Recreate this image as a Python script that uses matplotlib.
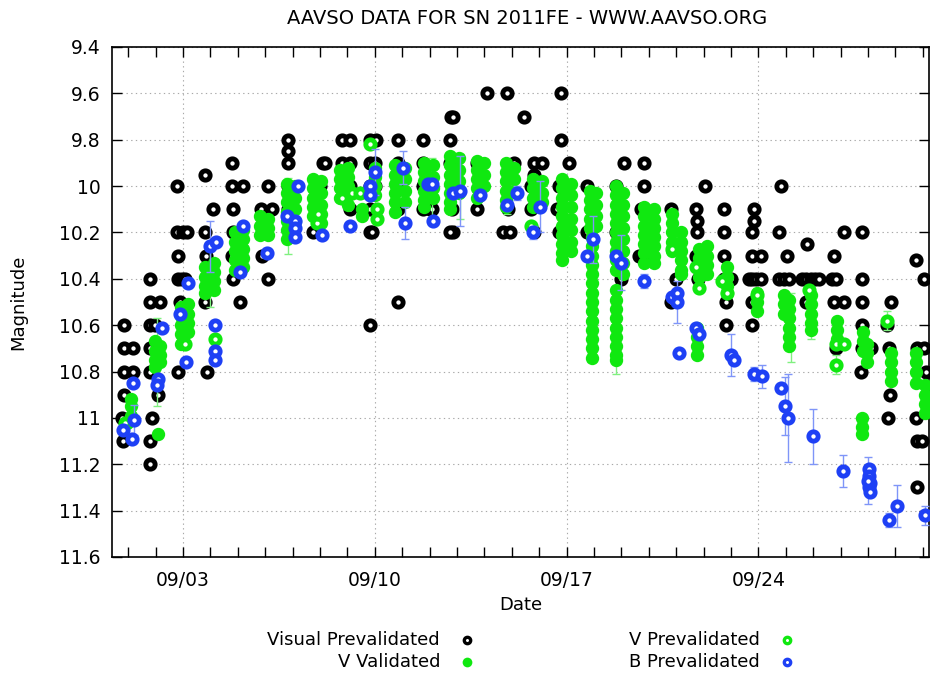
import numpy as np
import matplotlib.pyplot as plt

plt.rcParams['font.family'] = ['DejaVu Sans']

# day of September 2011 (fractional) and magnitude
visualDay = [0.85, 0.85, 0.85, 0.85, 0.78, 0.81, 1.18, 1.18,
             1.80, 1.80, 2.16, 1.80, 1.98, 1.80, 1.80, 2.09, 1.87, 1.80, 1.80,
             2.78, 2.78, 3.00, 3.15, 2.82, 2.82, 2.96, 3.07, 2.89, 2.82,
             3.80, 4.09, 3.80, 3.84, 3.97, 3.80, 3.87,
             4.79, 4.79, 5.19, 4.82, 4.82, 4.79, 4.82, 5.08,
             6.10, 5.84, 6.24, 5.88, 6.10,
             6.83, 6.83, 6.83, 6.83, 6.83,
             7.74, 8.10, 8.18, 7.99,
             8.80, 9.09, 8.80, 9.09, 9.09, 9.09,
             9.82, 10.05, 9.82, 10.00, 9.82, 10.00, 9.82, 9.82, 9.89, 9.82,
             10.84, 10.84, 10.80, 10.84, 10.84,
             11.75, 11.75, 11.75, 11.75, 12.00, 12.08,
             12.78, 12.86, 12.73, 12.73, 12.81, 12.84, 12.73,
             13.75, 13.75, 14.08,
             14.81, 14.67, 14.92, 14.85, 15.10, 15.43,
             15.83, 16.12, 15.83, 15.72, 15.72, 15.83,
             16.78, 16.78, 17.08, 16.74, 16.67, 16.74,
             17.76, 17.76,
             18.82, 19.11, 18.82, 19.00,
             19.84, 19.84, 19.73, 19.66, 19.77,
             20.83, 21.01, 20.83,
             22.06, 21.74, 21.77, 21.77, 21.74, 21.80,
             22.76, 22.76, 22.76, 22.76, 23.01, 22.83, 22.83,
             23.85, 23.85, 23.78, 23.78, 24.11, 23.67, 23.78, 23.93, 24.11, 23.78, 23.78,
             24.84, 24.76, 25.06, 24.76, 24.93, 25.13,
             25.79, 25.60, 25.75, 25.93, 26.08, 26.22, 25.75,
             26.77, 26.70, 26.84, 26.77, 27.13, 27.13, 26.84,
             27.79, 27.79, 27.79, 27.79, 27.79, 27.75, 28.12,
             28.84, 28.70, 28.77, 28.81, 28.74,
             29.76, 30.05, 29.80, 30.05, 30.12, 29.76, 29.80, 29.98, 29.80]
visualMag = [10.6, 10.7, 10.8, 10.9, 11.0, 11.1, 10.7, 10.8,
             10.4, 10.5, 10.5, 10.6, 10.6, 10.7, 10.8, 10.9, 11.0, 11.1, 11.2,
             10.0, 10.2, 10.2, 10.2, 10.3, 10.4, 10.4, 10.4, 10.5, 10.8,
             9.95, 10.1, 10.2, 10.3, 10.4, 10.5, 10.8,
             9.9, 10.0, 10.0, 10.1, 10.2, 10.3, 10.4, 10.5,
             10.0, 10.1, 10.1, 10.3, 10.4,
             9.8, 9.85, 9.9, 10.0, 10.1,
             10.2, 9.9, 9.9, 10.0,
             9.8, 9.8, 9.9, 9.9, 10.0, 10.1,
             9.8, 9.8, 9.9, 9.9, 10.0, 10.0, 10.1, 10.2, 10.2, 10.6,
             9.8, 9.9, 10.0, 10.1, 10.5,
             9.8, 9.9, 10.0, 10.1, 10.1, 10.1,
             9.7, 9.7, 9.8, 9.9, 10.1, 10.2, 10.2,
             9.9, 10.1, 9.6,
             9.6, 10.2, 10.2, 10.1, 9.9, 9.7,
             9.9, 9.9, 9.95, 10.0, 10.1, 10.2,
             9.6, 9.8, 9.9, 10.0, 10.1, 10.2,
             10.0, 10.2,
             10.0, 9.9, 10.2, 10.4,
             9.9, 10.0, 10.1, 10.3, 10.3,
             10.1, 10.4, 10.5,
             10.0, 10.1, 10.15, 10.2, 10.3, 10.4,
             10.1, 10.2, 10.3, 10.4, 10.4, 10.5, 10.6,
             10.1, 10.15, 10.2, 10.3, 10.3, 10.4, 10.4, 10.4, 10.4, 10.5, 10.6,
             10.0, 10.2, 10.3, 10.4, 10.4, 10.4,
             10.25, 10.4, 10.4, 10.4, 10.4, 10.4, 10.5,
             10.3, 10.4, 10.4, 10.5, 10.5, 10.2, 10.7,
             10.2, 10.4, 10.5, 10.6, 10.7, 10.8, 10.7,
             10.5, 10.6, 10.7, 10.9, 11.0,
             10.32, 10.4, 10.7, 10.7, 10.8, 11.0, 11.1, 11.1, 11.3]

# V validated: (day, magnitudes observed around that time)
vValidated = [
    (1.10, [10.92, 10.95, 10.99]), (0.96, [11.02]),
    (1.98, [10.67, 10.71, 10.75, 10.78]), (2.16, [10.69, 10.73, 10.76]), (2.09, [11.07]),
    (2.93, [10.52, 10.56, 10.60, 10.64, 10.68]), (3.18, [10.51, 10.55, 10.59, 10.63]),
    (3.80, [10.35, 10.39, 10.43, 10.46]), (4.13, [10.33, 10.37, 10.41, 10.45]),
    (4.90, [10.20, 10.24, 10.28, 10.32, 10.36]), (5.19, [10.19, 10.23, 10.27, 10.31, 10.35]),
    (5.81, [10.13, 10.17, 10.21]), (6.10, [10.14, 10.18, 10.21]),
    (6.79, [9.99, 10.03, 10.07, 10.11, 10.15, 10.19, 10.23]), (7.08, [10.00, 10.05, 10.10, 10.15]),
    (7.74, [9.97, 10.01, 10.05, 10.09, 10.13]), (8.03, [9.98, 10.03, 10.08, 10.12, 10.16]),
    (8.72, [9.93, 9.97, 10.01, 10.05]), (9.02, [9.92, 9.96, 10.00, 10.04, 10.08]),
    (9.53, [10.10, 10.13]), (10.00, [9.92, 9.96, 10.00, 10.04]),
    (10.73, [9.91, 9.95, 9.99, 10.03, 10.07, 10.11]), (11.09, [9.92, 9.97, 10.02, 10.07]),
    (11.79, [9.90, 9.94, 9.98, 10.02, 10.06, 10.09]), (12.11, [9.91, 9.96, 10.01, 10.05]),
    (12.73, [9.87, 9.91, 9.95, 9.99, 10.03, 10.07, 10.10]), (13.06, [9.88, 9.93, 9.98, 10.03]),
    (13.72, [9.89, 9.93, 9.97, 10.01, 10.05]), (13.97, [9.90, 9.95, 10.00]),
    (14.78, [9.90, 9.94, 9.98, 10.02, 10.06, 10.09]), (15.07, [9.92, 9.97, 10.02]),
    (15.76, [9.97, 10.01, 10.05, 10.09]), (16.12, [9.98, 10.03, 10.07]),
    (16.85, [9.97, 10.01, 10.05, 10.09, 10.13, 10.17, 10.21, 10.25, 10.29, 10.32]),
    (17.15, [9.99, 10.04, 10.09, 10.14, 10.19, 10.24, 10.28]),
    (17.84, [10.02, 10.06, 10.10, 10.14, 10.18]), (18.09, [10.03, 10.08, 10.13, 10.17]),
    (17.93, [10.22, 10.26, 10.30, 10.34, 10.38, 10.42, 10.46, 10.50, 10.54, 10.58, 10.62, 10.66, 10.70, 10.74]),
    (18.80, [10.00, 10.04, 10.08, 10.12, 10.16, 10.20, 10.24, 10.28, 10.32, 10.36]),
    (19.05, [10.03, 10.08, 10.13, 10.18, 10.23, 10.28, 10.33, 10.38]),
    (18.79, [10.45, 10.49, 10.53, 10.57, 10.61, 10.65, 10.69, 10.73, 10.75]),
    (19.84, [10.09, 10.13, 10.17, 10.21, 10.25, 10.29, 10.33]),
    (20.21, [10.10, 10.14, 10.18, 10.22, 10.26, 10.30, 10.33]),
    (20.86, [10.12, 10.16, 10.20, 10.24, 10.28]), (21.19, [10.20, 10.24, 10.28, 10.32, 10.36, 10.38]),
    (21.85, [10.27, 10.31, 10.35, 10.39]), (22.14, [10.26, 10.30, 10.34, 10.38]),
    (22.87, [10.35, 10.39, 10.43, 10.46]), (21.77, [10.61, 10.65, 10.69, 10.73]),
    (23.96, [10.46, 10.50, 10.54]), (24.95, [10.47, 10.51, 10.55]),
    (25.13, [10.49, 10.53, 10.57, 10.61, 10.65, 10.69]),
    (25.93, [10.47, 10.51, 10.55, 10.59, 10.62]), (26.88, [10.58, 10.62, 10.66]),
    (27.82, [10.63, 10.67, 10.71]), (27.98, [10.68, 10.72, 10.76]),
    (28.84, [10.72, 10.76, 10.80, 10.84]), (29.76, [10.72, 10.76, 10.80, 10.85]),
    (30.09, [10.86, 10.90, 10.94, 10.98]), (27.79, [11.00, 11.04, 11.07]),
]

vPreDay = [0.89, 3.07, 4.17, 7.89, 7.93, 8.80, 9.16, 9.46, 9.82, 10.07, 10.07, 15.72,
           20.86, 21.74, 21.85, 22.69, 22.87, 23.96, 25.86, 26.84, 27.13, 26.84, 28.70]
vPreMag = [11.02, 10.68, 10.66, 10.16, 10.12, 10.05, 10.03, 10.03, 9.82, 10.10, 10.14, 10.17,
           10.27, 10.35, 10.44, 10.41, 10.46, 10.47, 10.45, 10.68, 10.68, 10.77, 10.58]

# V error bars (day, mag, err)
vErrDay = [2.05, 6.83, 3.97, 12.08, 13.10, 14.81, 17.91, 18.82, 25.20, 28.70, 26.84, 23.96, 25.93]
vErrMag = [10.76, 10.13, 10.40, 10.02, 10.00, 10.05, 10.74, 10.76, 10.61, 10.58, 10.77, 10.47, 10.58]
vErrVal = [0.19, 0.165, 0.12, 0.14, 0.14, 0.07, 0.02, 0.05, 0.15, 0.04, 0.04, 0.03, 0.08]

bDay = [1.18, 1.21, 0.81, 1.14, 2.23, 2.09, 2.05, 3.18, 2.89, 3.11, 4.17, 4.17, 4.17,
        3.98, 4.20, 5.08, 5.19, 6.06, 7.19, 6.79, 7.08, 7.08, 7.08, 8.07, 9.09,
        10.00, 9.82, 9.82, 11.02, 11.09, 11.93, 12.08, 12.11, 12.84, 13.10, 13.83,
        14.81, 15.18, 15.76, 16.02, 17.76, 17.95, 18.82, 19.00, 19.84, 20.86, 21.05,
        21.05, 21.12, 21.74, 21.85, 23.01, 23.12, 23.85, 24.14, 24.84, 24.98, 25.09,
        26.00, 27.10, 28.05, 28.05, 28.09, 28.05, 28.09, 28.02, 28.77, 29.07, 30.09]
bMag = [10.85, 11.01, 11.05, 11.09, 10.61, 10.83, 10.86, 10.42, 10.55, 10.76, 10.60, 10.71, 10.75,
        10.26, 10.24, 10.37, 10.17, 10.29, 10.00, 10.13, 10.15, 10.18, 10.22, 10.21, 10.17,
        9.94, 10.00, 10.04, 9.92, 10.16, 9.99, 9.99, 10.15, 10.03, 10.02, 10.04,
        10.08, 10.03, 10.20, 10.09, 10.30, 10.23, 10.30, 10.33, 10.41, 10.48, 10.46,
        10.50, 10.72, 10.61, 10.64, 10.73, 10.75, 10.81, 10.82, 10.87, 10.95, 11.00,
        11.08, 11.23, 11.22, 11.25, 11.28, 11.30, 11.32, 11.27, 11.44, 11.38, 11.42]
bErr = [0.0, 0.065, 0.0, 0.0, 0.0, 0.0, 0.0, 0.0, 0.02, 0.0, 0.0, 0.0, 0.0,
        0.11, 0.0, 0.0, 0.0, 0.0, 0.0, 0.0, 0.0, 0.0, 0.0, 0.0, 0.0,
        0.10, 0.0, 0.0, 0.07, 0.07, 0.0, 0.0, 0.0, 0.0, 0.15, 0.0,
        0.0, 0.03, 0.03, 0.11, 0.0, 0.10, 0.0, 0.12, 0.03, 0.0, 0.0,
        0.09, 0.0, 0.0, 0.0, 0.09, 0.0, 0.03, 0.05, 0.0, 0.125, 0.19,
        0.12, 0.07, 0.0, 0.0, 0.0, 0.0, 0.0, 0.10, 0.03, 0.09, 0.04]

tickDays = [3, 10, 17, 24]
tickLabels = ['09/03', '09/10', '09/17', '09/24']
magTicks = [9.4, 9.6, 9.8, 10, 10.2, 10.4, 10.6, 10.8, 11, 11.2, 11.4, 11.6]
magLabels = ['9.4', '9.6', '9.8', '10', '10.2', '10.4', '10.6', '10.8', '11', '11.2', '11.4', '11.6']

BLACK = 'black'
GREEN = '#10e810'
BLUE = '#1e40f5'

fig = plt.figure(figsize=(9.3, 6.73), dpi=100)
ax = fig.add_axes([112 / 930, 1 - 557 / 673, (929 - 112) / 930, (557 - 47) / 673])

# thick ring with a small white centre, like the gnuplot point type
ringStyle = dict(linestyle='none', marker='o', markersize=6.7, markerfacecolor='white',
                 markeredgewidth=3.5)

ax.plot(visualDay, visualMag, markeredgecolor=BLACK, zorder=3, **ringStyle)

valDay = []
valMag = []
for day, mags in vValidated:
    for m in mags:
        valDay.append(day)
        valMag.append(m)
ax.errorbar(vErrDay, vErrMag, yerr=vErrVal, fmt='none', ecolor='#80f080', elinewidth=1,
            capsize=3, zorder=3.5)
ax.plot(valDay, valMag, linestyle='none', marker='o', markersize=8.4, color=GREEN,
        markeredgewidth=1.2, zorder=4)
ax.plot(vPreDay, vPreMag, markeredgecolor=GREEN, zorder=5, **ringStyle)

ax.errorbar(bDay, bMag, yerr=bErr, fmt='none', ecolor='#7f95f8', elinewidth=1,
            capsize=3, zorder=5.5)
ax.plot(bDay, bMag, markeredgecolor=BLUE, zorder=6, **ringStyle)

ax.set_xlim(0.41, 30.23)
ax.set_ylim(11.6, 9.4)
ax.set_xticks(tickDays)
ax.set_xticklabels(tickLabels)
ax.set_xticks(np.arange(1, 31), minor=True)
ax.set_yticks(magTicks)
ax.set_yticklabels(magLabels)
ax.tick_params(axis='both', which='both', direction='in', top=True, right=True,
               length=7, width=1, labelsize=13.5, pad=8)
ax.tick_params(axis='x', which='major', pad=10)
ax.grid(True, which='major', color='#a8a8a8', linestyle=(0, (1.2, 3)), linewidth=0.8)
for s in ax.spines.values():
    s.set_linewidth(1.2)

fig.text(527 / 930, 1 - 18 / 673, 'AAVSO DATA FOR SN 2011FE - WWW.AAVSO.ORG',
         ha='center', va='center', fontsize=14)
fig.text(18 / 930, 1 - 302 / 673, 'Magnitude', rotation=90, ha='center', va='center', fontsize=13)
fig.text(521 / 930, 1 - 605 / 673, 'Date', ha='center', va='center', fontsize=13)

# legend drawn by hand, gnuplot style
legendItems = [('Visual Prevalidated', BLACK, True, 440, 640),
               ('V Validated', GREEN, False, 440, 662),
               ('V Prevalidated', GREEN, True, 760, 640),
               ('B Prevalidated', BLUE, True, 760, 662)]
for label, col, ring, xr, yr in legendItems:
    fig.text(xr / 930, 1 - yr / 673, label, ha='right', va='center', fontsize=13)
    if ring:
        fig.lines.append(plt.Line2D([(xr + 27) / 930], [1 - yr / 673], transform=fig.transFigure,
                                    marker='o', markersize=4.6, markerfacecolor='white',
                                    markeredgecolor=col, markeredgewidth=2.4, linestyle='none'))
    else:
        fig.lines.append(plt.Line2D([(xr + 27) / 930], [1 - yr / 673], transform=fig.transFigure,
                                    marker='o', markersize=7, color=col, markeredgewidth=0,
                                    linestyle='none'))

plt.savefig('out.png', dpi=100)
